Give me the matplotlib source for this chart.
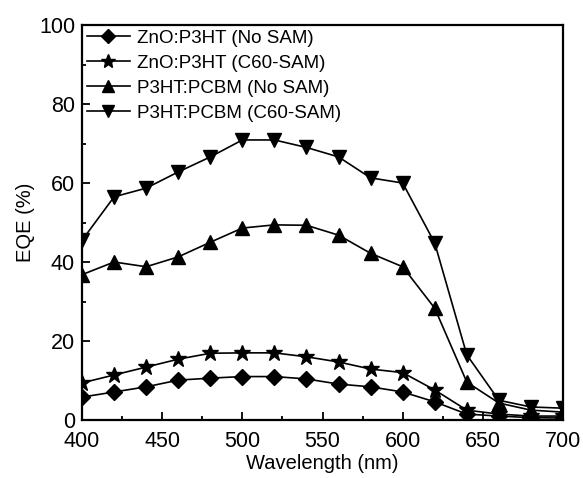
import matplotlib
matplotlib.use("Agg")
import matplotlib.pyplot as plt
from matplotlib.ticker import MultipleLocator

plt.rcParams['font.family'] = ['Liberation Sans', 'DejaVu Sans']

# Wavelength grid (nm)
wavelength = [400, 420, 440, 460, 480, 500, 520, 540, 560, 580, 600, 620, 640, 660, 680, 700]

# EQE (%) for each device
zno_no_sam = [5.8, 7.1, 8.4, 10.1, 10.6, 11.0, 11.0, 10.4, 9.1, 8.4, 7.1, 4.6, 1.5, 1.0, 0.6, 0.5]
zno_c60_sam = [9.4, 11.4, 13.4, 15.4, 16.9, 17.0, 17.0, 16.0, 14.7, 12.9, 12.0, 7.6, 2.5, 1.5, 1.0, 1.0]
pcbm_no_sam = [36.8, 40.0, 38.8, 41.3, 45.0, 48.6, 49.4, 49.3, 46.8, 42.2, 38.8, 28.3, 9.6, 4.3, 2.5, 2.0]
pcbm_c60_sam = [45.5, 56.5, 58.7, 62.8, 66.6, 70.9, 70.9, 69.0, 66.6, 61.3, 60.0, 44.8, 16.5, 5.0, 3.3, 3.0]

labels = ["ZnO:P3HT (No SAM)", "ZnO:P3HT (C60-SAM)",
          "P3HT:PCBM (No SAM)", "P3HT:PCBM (C60-SAM)"]

fig = plt.figure(figsize=(5.83, 4.78), dpi=100)
ax = fig.add_axes([0.1407, 0.1213, 0.825, 0.8264])

series = [(zno_no_sam, 'D', 8), (zno_c60_sam, '*', 12),
          (pcbm_no_sam, '^', 10), (pcbm_c60_sam, 'v', 10)]
for (vals, mk, ms), lab in zip(series, labels):
    ax.plot(wavelength, vals, color='black', lw=1.2, marker=mk, ms=ms,
            mfc='black', mec='black', label=lab)

ax.set_xlim(400, 700)
ax.set_ylim(0, 100)
ax.xaxis.set_major_locator(MultipleLocator(50))
ax.xaxis.set_minor_locator(MultipleLocator(25))
ax.yaxis.set_major_locator(MultipleLocator(20))
ax.yaxis.set_minor_locator(MultipleLocator(10))
ax.tick_params(which='both', direction='in', top=False, right=False,
               labelsize=15.5, width=1.3)
ax.tick_params(which='major', length=6)
ax.tick_params(which='minor', length=3)
ax.tick_params(axis='x', pad=8)
ax.tick_params(axis='y', pad=5)
for s in ax.spines.values():
    s.set_linewidth(1.6)

ax.set_xlabel("Wavelength (nm)", fontsize=14.5, labelpad=1)
ax.set_ylabel("EQE (%)", fontsize=14.5, labelpad=3)

ax.legend(loc='upper left', frameon=False, fontsize=13.5, handlelength=2.3,
          handletextpad=0.4, labelspacing=0.42, borderaxespad=0.0,
          borderpad=0.25, markerscale=0.9)

fig.savefig("out.png", dpi=100)
